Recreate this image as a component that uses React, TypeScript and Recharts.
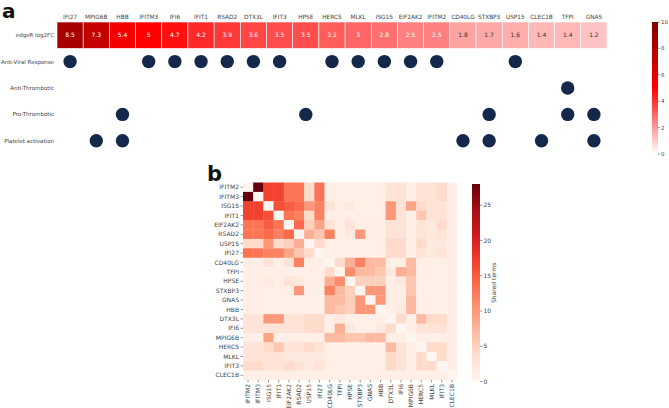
import { ScatterChart, Scatter, XAxis, YAxis } from 'recharts'

// panel a: genes ordered by fold change
const genesA = ['IFI27', 'MPIG6B', 'HBB', 'IFITM3', 'IFI6', 'IFIT1', 'RSAD2', 'DTX3L', 'IFIT3', 'HPSE', 'HERC5', 'MLKL', 'ISG15', 'EIF2AK2', 'IFITM2', 'CD40LG', 'STXBP3', 'USP15', 'CLEC1B', 'TFPI', 'GNAS']
const log2FC = [8.5, 7.3, 5.4, 5, 4.7, 4.2, 3.9, 3.6, 3.5, 3.5, 3.2, 3, 2.8, 2.5, 2.5, 1.8, 1.7, 1.6, 1.4, 1.4, 1.2]
const rowLabelsA = ['edgeR log2FC', 'Anti-Viral Response', 'Anti-Thrombotic', 'Pro-Thrombotic', 'Platelet activation']
const antiViral = ['IFI27', 'IFITM3', 'IFI6', 'IFIT1', 'RSAD2', 'DTX3L', 'IFIT3', 'HERC5', 'MLKL', 'ISG15', 'EIF2AK2', 'IFITM2', 'USP15']
const antiThrombotic = ['TFPI']
const proThrombotic = ['HBB', 'HPSE', 'STXBP3', 'TFPI', 'GNAS']
const plateletActivation = ['MPIG6B', 'HBB', 'CD40LG', 'STXBP3', 'CLEC1B', 'GNAS']
const pathwayGenes = [antiViral, antiThrombotic, proThrombotic, plateletActivation]
const fcTicks = [0, 2, 4, 6, 8, 10]

// panel b: shared GO terms between genes
const genesB = ['IFITM2', 'IFITM3', 'ISG15', 'IFIT1', 'EIF2AK2', 'RSAD2', 'USP15', 'IFI27', 'CD40LG', 'TFPI', 'HPSE', 'STXBP3', 'GNAS', 'HBB', 'DTX3L', 'IFI6', 'MPIG6B', 'HERC5', 'MLKL', 'IFIT3', 'CLEC1B']
const sharedTerms = [
  [0, 28, 17, 17, 13, 13, 4, 13, 1, 1, 1, 1, 1, 1, 3, 3, 1, 3, 3, 4, 1],
  [28, 0, 17, 17, 13, 13, 4, 13, 1, 1, 1, 1, 1, 1, 3, 3, 1, 3, 3, 4, 1],
  [17, 17, 0, 16, 15, 14, 10, 12, 3, 1, 2, 1, 1, 1, 10, 3, 9, 4, 3, 3, 1],
  [17, 17, 16, 0, 13, 12, 4, 12, 1, 1, 1, 1, 1, 1, 10, 3, 1, 6, 3, 3, 1],
  [13, 13, 15, 13, 0, 14, 5, 9, 3, 1, 3, 1, 1, 1, 3, 3, 1, 3, 2, 4, 1],
  [13, 13, 14, 12, 14, 0, 8, 6, 12, 1, 2, 10, 1, 1, 3, 3, 1, 3, 2, 3, 1],
  [4, 4, 10, 4, 5, 8, 0, 4, 1, 1, 1, 1, 1, 1, 4, 4, 1, 4, 2, 2, 1],
  [13, 13, 12, 12, 9, 6, 4, 0, 1, 1, 1, 1, 1, 1, 4, 4, 1, 3, 2, 3, 1],
  [1, 1, 3, 1, 3, 12, 1, 1, 0, 4, 8, 12, 7, 7, 1, 1, 7, 1, 1, 1, 1],
  [1, 1, 1, 1, 1, 1, 1, 1, 4, 0, 11, 7, 7, 6, 2, 8, 7, 1, 1, 1, 1],
  [1, 1, 2, 1, 3, 2, 1, 1, 8, 11, 0, 5, 5, 5, 1, 2, 6, 1, 1, 1, 1],
  [1, 1, 1, 1, 1, 10, 1, 1, 12, 7, 5, 0, 10, 10, 1, 1, 6, 1, 1, 1, 1],
  [1, 1, 1, 1, 1, 1, 1, 1, 7, 7, 5, 10, 0, 10, 1, 1, 7, 1, 1, 1, 1],
  [1, 1, 1, 1, 1, 1, 1, 1, 7, 6, 5, 10, 10, 0, 1, 2, 7, 1, 1, 1, 1],
  [3, 3, 10, 10, 3, 3, 4, 4, 1, 2, 1, 1, 1, 1, 0, 4, 1, 7, 4, 4, 1],
  [3, 3, 3, 3, 3, 3, 4, 4, 1, 8, 2, 1, 1, 2, 4, 0, 1, 3, 3, 3, 1],
  [1, 1, 9, 1, 1, 1, 1, 1, 7, 7, 6, 6, 7, 7, 1, 1, 0, 1, 1, 1, 1],
  [3, 3, 4, 6, 3, 3, 4, 3, 1, 1, 1, 1, 1, 1, 7, 3, 1, 0, 4, 4, 1],
  [3, 3, 3, 3, 2, 2, 2, 2, 1, 1, 1, 1, 1, 1, 4, 3, 1, 4, 0, 4, 1],
  [4, 4, 3, 3, 4, 3, 2, 3, 1, 1, 1, 1, 1, 1, 4, 3, 1, 4, 4, 0, 1],
  [1, 1, 1, 1, 1, 1, 1, 1, 1, 1, 1, 1, 1, 1, 1, 1, 1, 1, 1, 1, 0],
]
const sharedMax = 28
const sharedTicks = [0, 5, 10, 15, 20, 25]

const FONT = '"DejaVu Sans", sans-serif'
const DOT = '#14284b'
const LABEL = '#444'

// layout
const A_LEFT = 57, A_RIGHT = 607, A_TOP = 22, A_BOTTOM = 154
const cellAW = (A_RIGHT - A_LEFT) / genesA.length
const cellAH = (A_BOTTOM - A_TOP) / rowLabelsA.length
const B_TOP_OFF = 170
const B_LEFT = 243, B_RIGHT = 457, B_TOP = 182.5, B_BOTTOM = 380
const cellBW = (B_RIGHT - B_LEFT) / genesB.length
const cellBH = (B_BOTTOM - B_TOP) / genesB.length

type RGB = [number, number, number]
const mix = (a: RGB, b: RGB, t: number): RGB => [0, 1, 2].map(i => Math.round(a[i] + (b[i] - a[i]) * t)) as RGB
const hex = (c: RGB) => `rgb(${c[0]},${c[1]},${c[2]})`

const fcStops: RGB[] = [[255, 255, 255], [255, 0, 0], [128, 0, 0]]
function fcColor(v: number) {
  const t = Math.max(0, Math.min(1, v / 10)) * 2
  const i = Math.min(1, Math.floor(t))
  return mix(fcStops[i], fcStops[i + 1], t - i)
}

const redsHex = ['#fff5f0', '#fee0d2', '#fcbba1', '#fc9272', '#fb6a4a', '#ef3b2c', '#cb181d', '#a50f15', '#67000d']
const redsStops: RGB[] = redsHex.map(h => [parseInt(h.slice(1, 3), 16), parseInt(h.slice(3, 5), 16), parseInt(h.slice(5, 7), 16)])
function redsColor(v: number) {
  const t = Math.max(0, Math.min(1, v / sharedMax)) * (redsStops.length - 1)
  const i = Math.min(redsStops.length - 2, Math.floor(t))
  return mix(redsStops[i], redsStops[i + 1], t - i)
}

function lum(c: RGB) {
  const l = c.map(x => {
    const s = x / 255
    return s <= 0.03928 ? s / 12.92 : Math.pow((s + 0.055) / 1.055, 2.4)
  })
  return 0.2126 * l[0] + 0.7152 * l[1] + 0.0722 * l[2]
}

const fcData = genesA.map((g, i) => ({ xi: i, yi: 0, v: log2FC[i], gene: g }))
const dotData = pathwayGenes.map((list, k) =>
  list.map(g => ({ xi: genesA.indexOf(g), yi: k + 1, gene: g }))
)
const sharedData = sharedTerms.flatMap((row, i) => row.map((v, j) => ({ xi: j, yi: i, v })))

const FcCell = (props: any) => {
  const { cx, cy, payload } = props
  const c = fcColor(payload.v)
  return (
    <g>
      <rect x={cx - cellAW / 2} y={cy - cellAH / 2} width={cellAW} height={cellAH} fill={hex(c)} stroke="#fff" strokeWidth={0.6} />
      <text x={cx} y={cy} dy="0.35em" textAnchor="middle" fontSize={6} fontFamily={FONT}
        fill={lum(c) < 0.408 ? '#ffffff' : '#333333'}>{payload.v}</text>
    </g>
  )
}

const Dot = (props: any) => <circle cx={props.cx} cy={props.cy} r={6.7} fill={DOT} />

const SharedCell = (props: any) => {
  const { cx, cy, payload } = props
  return (
    <rect x={cx - cellBW / 2} y={cy - cellBH / 2} width={cellBW + 0.3} height={cellBH + 0.3} fill={hex(redsColor(payload.v))} />
  )
}

const XTickA = ({ x, y, payload }: any) => (
  <text x={x} y={y - 3} textAnchor="middle" fontSize={5.8} fontFamily={FONT} fill={LABEL}>
    {genesA[payload.value]}
  </text>
)

const YTickA = ({ x, y, payload }: any) => (
  <text x={x - 3} y={y} dy="0.35em" textAnchor="end" fontSize={5.5} fontFamily={FONT} fill={LABEL}>
    {rowLabelsA[payload.value]}
  </text>
)

const XTickB = ({ x, y, payload }: any) => (
  <g transform={`translate(${x},${y})`}>
    <line x1={0} y1={0} x2={0} y2={2.5} stroke="#555" strokeWidth={0.6} />
    <text transform="rotate(-90)" x={-4} y={0} dy="0.35em" textAnchor="end" fontSize={6} fontFamily={FONT} fill={LABEL}>
      {genesB[payload.value]}
    </text>
  </g>
)

const YTickB = ({ x, y, payload }: any) => (
  <g transform={`translate(${x},${y})`}>
    <line x1={-2.5} y1={0} x2={0} y2={0} stroke="#555" strokeWidth={0.6} />
    <text x={-4} y={0} dy="0.35em" textAnchor="end" fontSize={6} fontFamily={FONT} fill={LABEL}>
      {genesB[payload.value]}
    </text>
  </g>
)

function Colorbars() {
  const fcY = (v: number) => A_BOTTOM - (v / 10) * (A_BOTTOM - A_TOP)
  const cbTop = 184, cbBot = 381.5
  const shY = (v: number) => cbBot - (v / sharedMax) * (cbBot - cbTop)
  return (
    <svg width={669} height={408} style={{ position: 'absolute', left: 0, top: 0, pointerEvents: 'none' }}>
      <defs>
        <linearGradient id="fc-grad" x1="0" y1="1" x2="0" y2="0">
          {fcStops.map((c, i) => <stop key={i} offset={i / (fcStops.length - 1)} stopColor={hex(c)} />)}
        </linearGradient>
        <linearGradient id="reds-grad" x1="0" y1="1" x2="0" y2="0">
          {redsStops.map((c, i) => <stop key={i} offset={i / (redsStops.length - 1)} stopColor={hex(c)} />)}
        </linearGradient>
      </defs>
      <text x={2} y={18} fontSize={20} fontWeight="bold" fontFamily={FONT} fill="#111">a</text>
      <text x={207} y={181} fontSize={21} fontWeight="bold" fontFamily={FONT} fill="#111">b</text>

      <rect x={652} y={A_TOP} width={6} height={A_BOTTOM - A_TOP} fill="url(#fc-grad)" />
      {fcTicks.map(t => (
        <g key={t}>
          <line x1={658} x2={660} y1={fcY(t)} y2={fcY(t)} stroke="#555" strokeWidth={0.6} />
          <text x={661} y={fcY(t)} dy="0.35em" fontSize={5.5} fontFamily={FONT} fill={LABEL}>{t}</text>
        </g>
      ))}

      <rect x={472} y={cbTop} width={8} height={cbBot - cbTop} fill="url(#reds-grad)" />
      {sharedTicks.map(t => (
        <g key={t}>
          <line x1={480} x2={482.5} y1={shY(t)} y2={shY(t)} stroke="#555" strokeWidth={0.6} />
          <text x={483.5} y={shY(t)} dy="0.35em" fontSize={6} fontFamily={FONT} fill={LABEL}>{t}</text>
        </g>
      ))}
      <text transform={`translate(496,${(cbTop + cbBot) / 2}) rotate(-90)`} textAnchor="middle" fontSize={6} fontFamily={FONT} fill={LABEL}>
        Shared terms
      </text>
    </svg>
  )
}

export default function App() {
  return (
    <div style={{ position: 'relative', width: 669, height: 408, background: '#fff', fontFamily: FONT, overflow: 'hidden' }}>
      <style>{'body{margin:0}'}</style>
      <div style={{ position: 'absolute', left: 0, top: 0 }}>
        <ScatterChart width={669} height={A_BOTTOM + 6} margin={{ top: 0, right: 669 - A_RIGHT, bottom: 6, left: 0 }}>
          <XAxis type="number" dataKey="xi" orientation="top" height={A_TOP} domain={[-0.5, genesA.length - 0.5]}
            ticks={genesA.map((_, i) => i)} interval={0}
            axisLine={false} tickLine={false} tickSize={0} tickMargin={0} tick={<XTickA />} />
          <YAxis type="number" dataKey="yi" width={A_LEFT} domain={[-0.5, rowLabelsA.length - 0.5]} reversed
            ticks={rowLabelsA.map((_, i) => i)} interval={0}
            axisLine={false} tickLine={false} tickSize={0} tickMargin={0} tick={<YTickA />} />
          <Scatter data={fcData} shape={FcCell} isAnimationActive={false} />
          {dotData.map((d, k) => (
            <Scatter key={k} data={d} shape={Dot} isAnimationActive={false} />
          ))}
        </ScatterChart>
      </div>
      <div style={{ position: 'absolute', left: 0, top: B_TOP_OFF }}>
        <ScatterChart width={470} height={B_BOTTOM - B_TOP_OFF + 28}
          margin={{ top: B_TOP - B_TOP_OFF, right: 470 - B_RIGHT, bottom: 0, left: 0 }}>
          <XAxis type="number" dataKey="xi" height={28} domain={[-0.5, genesB.length - 0.5]}
            ticks={genesB.map((_, i) => i)} interval={0} axisLine={false} tickLine={false}
            tickSize={0} tickMargin={0} tick={<XTickB />} />
          <YAxis type="number" dataKey="yi" width={B_LEFT} domain={[-0.5, genesB.length - 0.5]} reversed
            ticks={genesB.map((_, i) => i)} interval={0} axisLine={false} tickLine={false}
            tickSize={0} tickMargin={0} tick={<YTickB />} />
          <Scatter data={sharedData} shape={SharedCell} isAnimationActive={false} />
        </ScatterChart>
      </div>
      <Colorbars />
    </div>
  )
}
